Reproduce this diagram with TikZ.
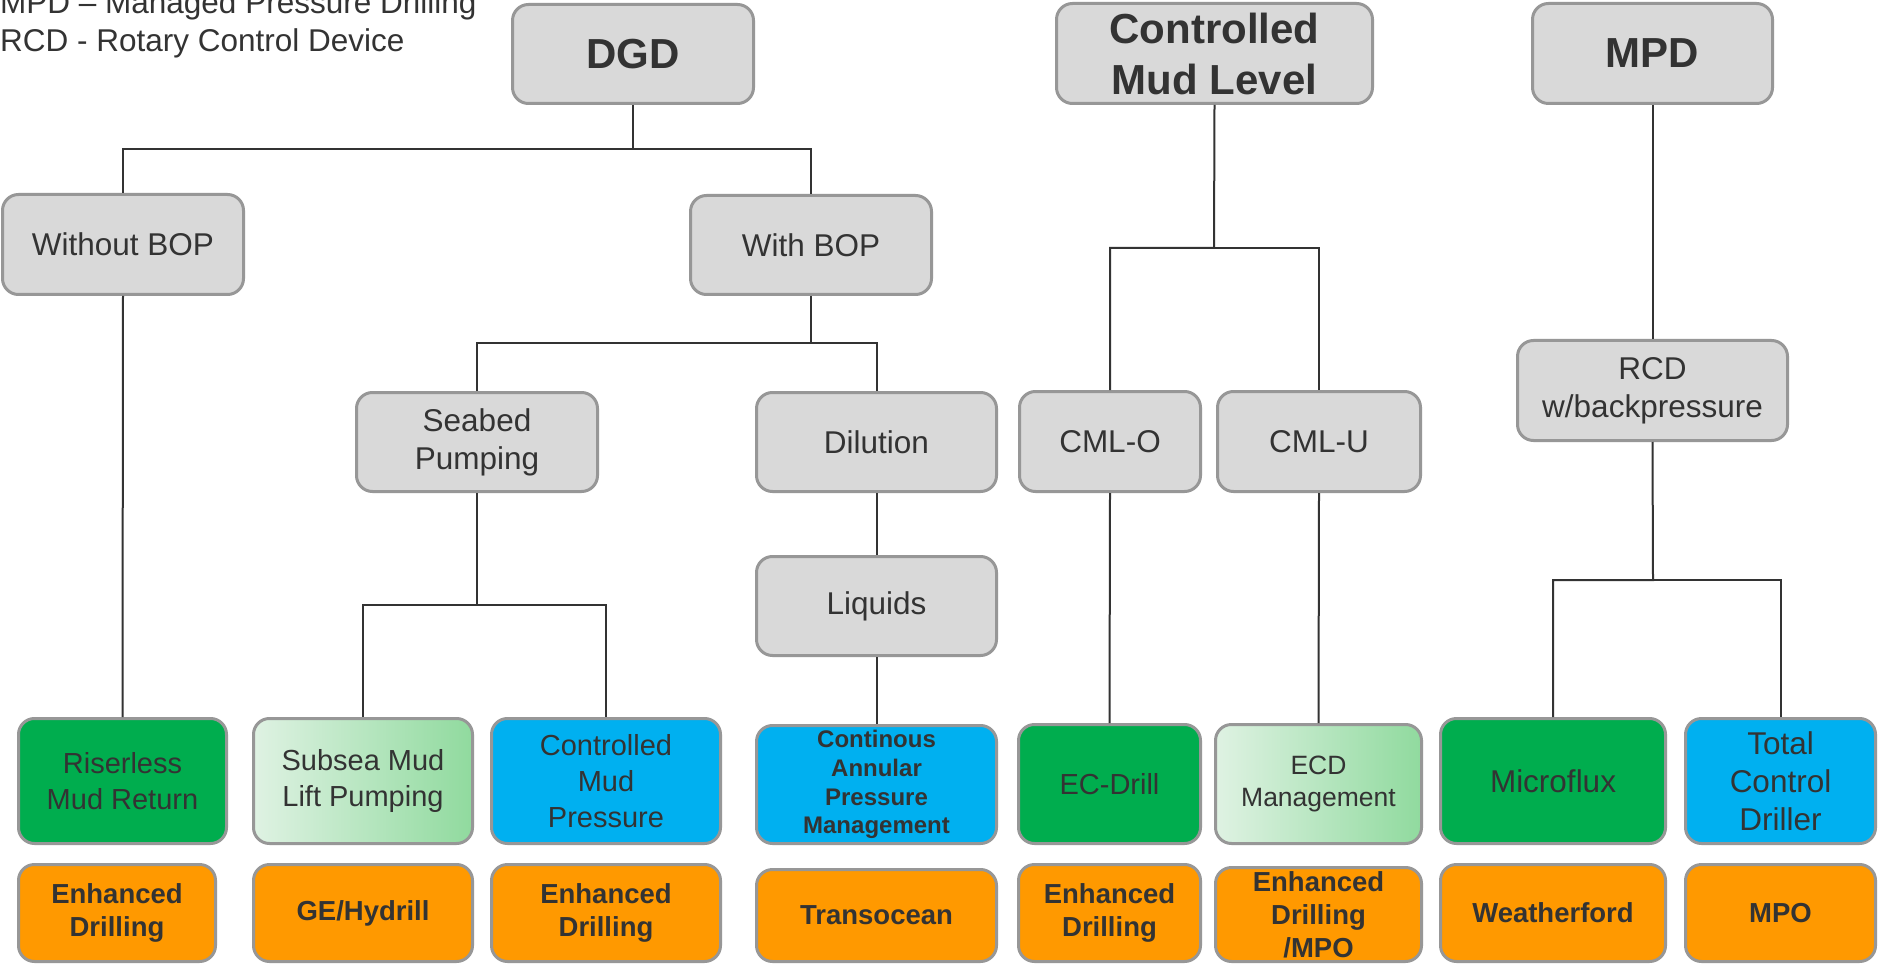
\documentclass[tikz,border=0pt]{standalone}
\usepackage{fontspec}
\setmainfont{Liberation Sans}
\newcommand\fsz[2]{\fontsize{#1}{#2}\selectfont}
\definecolor{boxgray}{HTML}{D9D9D9}
\definecolor{bordergray}{HTML}{979797}
\definecolor{txt}{HTML}{333333}
\definecolor{linec}{HTML}{333333}
\definecolor{mgreen}{HTML}{00AD4E}
\definecolor{mblue}{HTML}{00B0F0}
\definecolor{morange}{HTML}{FF9900}
\definecolor{gradL}{HTML}{DFF2E3}
\definecolor{gradR}{HTML}{90DA9E}
\tikzset{
  box/.style={rounded corners=16pt, draw=bordergray, line width=3pt, fill=boxgray, text=txt, align=center, inner sep=0pt, font=\fsz{31.5}{38}},
  hdr/.style={box, font=\bfseries\fsz{42}{51}},
  grn/.style={box, fill=mgreen, font=\fsz{29}{36}},
  blu/.style={box, fill=mblue, font=\fsz{29}{36}},
  grad/.style={box, left color=gradL, right color=gradR, font=\fsz{29}{36}},
  org/.style={box, fill=morange, font=\bfseries\fsz{27.5}{33}},
  conn/.style={draw=linec, line width=2pt},
  legendtxt/.style={anchor=base west, inner sep=0pt, text=txt, font=\fsz{31.5}{38}},
  sz/.style 2 args={minimum width=#1pt, minimum height=#2pt},
}
\begin{document}
\begin{tikzpicture}[x=1pt,y=-1pt]
\useasboundingbox (0,0) rectangle (1879,965);
\fill[white] (0,0) rectangle (1879,965);
\clip (0,0) rectangle (1879,965);

% legend
\node[legendtxt] (legendA) at (0,14) {MPD – Managed Pressure Drilling};
\node[legendtxt] (legendB) at (0,52) {RCD - Rotary Control Device};

% top level
\node[hdr, sz={241}{99}] (DGD) at (633,54) {DGD};
\node[hdr, sz={316}{100}] (CML) at (1214.5,53.5) {Controlled\\Mud Level};
\node[hdr, sz={240}{100}] (MPD) at (1652.5,53.5) {MPD};

% second levels
\node[box, sz={241}{100}] (WoBOP) at (123,244.5) {Without BOP};
\node[box, sz={241}{99}] (WBOP) at (811,245) {With BOP};
\node[box, sz={241}{99}] (Seabed) at (477,442) {Seabed\\Pumping};
\node[box, sz={240}{99}] (Dil) at (876.5,442) {Dilution};
\node[box, sz={240}{99}] (Liq) at (876.5,606) {Liquids};
\node[box, sz={181}{100}] (CMLO) at (1110,441.5) {CML-O};
\node[box, sz={203}{100}] (CMLU) at (1319,441.5) {CML-U};
\node[box, sz={270}{100}] (RCD) at (1652.5,390.5) {RCD\\w/backpressure};

% technology row
\node[grn, sz={208}{125}] (Riser) at (122.5,781) {Riserless\\Mud Return};
\node[grad, sz={219}{125}] (Subsea) at (363,781) {Subsea Mud\\Lift Pumping};
\node[blu, sz={229}{125}] (CMP) at (606,781) {Controlled\\Mud\\Pressure};
\node[blu, sz={240}{118}, font=\bfseries\fsz{24}{28.7}] (CAPM) at (876.5,784.5) {Continous\\Annular\\Pressure\\Management};
\node[grn, sz={182}{119}] (ECDrill) at (1109.5,784) {EC-Drill};
\node[grad, sz={206}{119}, font=\fsz{26.5}{32}] (ECDM) at (1318.5,784) {ECD\\Management};
\node[grn, sz={225}{125}, font=\fsz{31.5}{38}] (Micro) at (1553,781) {Microflux};
\node[blu, sz={190}{125}, font=\fsz{31.5}{38}] (TCD) at (1780.5,781) {Total\\Control\\Driller};

% companies row
\node[org, sz={197}{97}] (O1) at (117,913) {Enhanced\\Drilling};
\node[org, sz={219}{97}] (O2) at (363,913) {GE/Hydrill};
\node[org, sz={229}{97}] (O3) at (606,913) {Enhanced\\Drilling};
\node[org, sz={240}{92}] (O4) at (876.5,915.5) {Transocean};
\node[org, sz={182}{97}] (O5) at (1109.5,913) {Enhanced\\Drilling};
\node[org, sz={206}{94}] (O6) at (1318.5,914.5) {Enhanced\\Drilling\\/MPO};
\node[org, sz={225}{97}] (O7) at (1553,913) {Weatherford};
\node[org, sz={190}{97}] (O8) at (1780.5,913) {MPO};

% junction points
\coordinate (jDGD) at (633,149);
\coordinate (jWBOP) at (811,343);
\coordinate (jSea) at (477,605);
\coordinate (jCML) at (1214,248);
\coordinate (jRCD) at (1653,580);

% connectors
\draw[conn] (DGD.south) -- (jDGD) -| (WoBOP.north);
\draw[conn] (jDGD) -| (WBOP.north);
\draw[conn] (WBOP.south) -- (jWBOP) -| (Seabed.north);
\draw[conn] (jWBOP) -| (Dil.north);
\draw[conn] (Seabed.south) -- (jSea) -| (Subsea.north);
\draw[conn] (jSea) -| (CMP.north);
\draw[conn] (Dil.south) -- (Liq.north);
\draw[conn] (Liq.south) -- (CAPM.north);
\draw[conn] (WoBOP.south) -- (Riser.north);
\draw[conn] (CML.south) -- (jCML) -| (CMLO.north);
\draw[conn] (jCML) -| (CMLU.north);
\draw[conn] (CMLO.south) -- (ECDrill.north);
\draw[conn] (CMLU.south) -- (ECDM.north);
\draw[conn] (MPD.south) -- (RCD.north);
\draw[conn] (RCD.south) -- (jRCD) -| (Micro.north);
\draw[conn] (jRCD) -| (TCD.north);
\end{tikzpicture}
\end{document}
